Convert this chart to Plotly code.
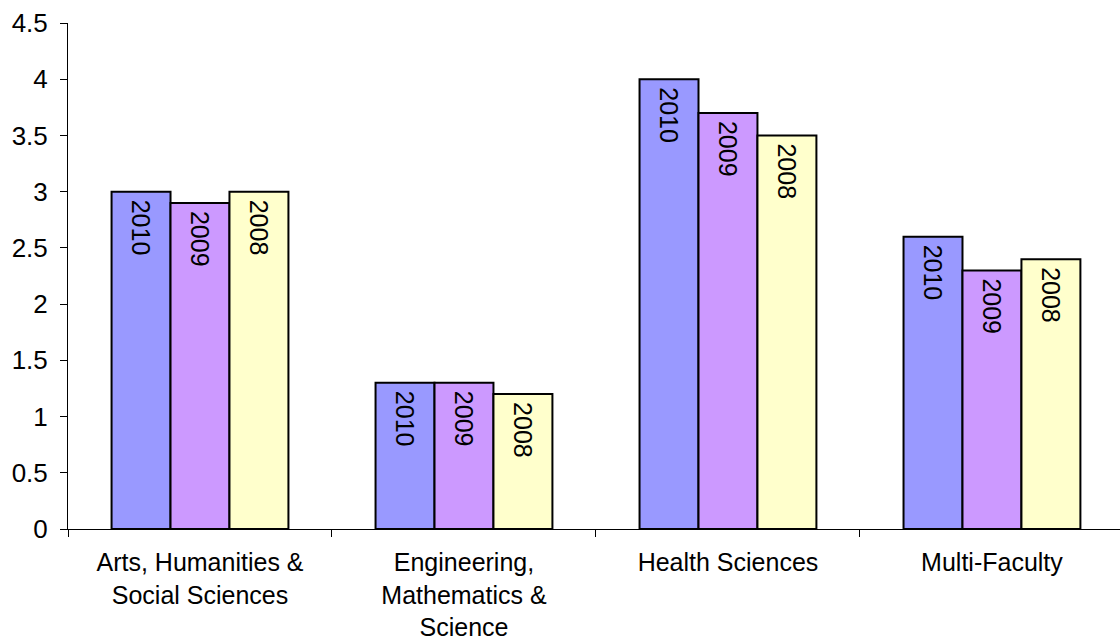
import plotly.graph_objects as go

categories = ["Arts, Humanities &<br>Social Sciences",
              "Engineering,<br>Mathematics &<br>Science",
              "Health Sciences",
              "Multi-Faculty"]
series_names = ["2010", "2009", "2008"]
values_2010 = [3.0, 1.3, 4.0, 2.6]
values_2009 = [2.9, 1.3, 3.7, 2.3]
values_2008 = [3.0, 1.2, 3.5, 2.4]
colors = ["#9999FF", "#CC99FF", "#FFFFCC"]
y_ticks = [0, 0.5, 1, 1.5, 2, 2.5, 3, 3.5, 4, 4.5]
y_tick_labels = ["0", "0.5", "1", "1.5", "2", "2.5", "3", "3.5", "4", "4.5"]

FONT = "Liberation Sans, Arial, sans-serif"

fig = go.Figure()
for name, vals, col in zip(series_names, [values_2010, values_2009, values_2008], colors):
    fig.add_trace(go.Bar(
        x=categories, y=vals, name=name,
        marker=dict(color=col, line=dict(color="black", width=2)),
        text=["\u2009" + name] * len(vals),
        textposition="inside",
        insidetextanchor="end",
        textangle=90,
        textfont=dict(family=FONT, size=25, color="black"),
        cliponaxis=False,
    ))

fig.update_layout(
    width=1120, height=644,
    margin=dict(l=68, r=0, t=23, b=115, autoexpand=False),
    paper_bgcolor="white", plot_bgcolor="white",
    barmode="group", bargap=0.33, bargroupgap=0,
    showlegend=False,
    font=dict(family=FONT, size=26, color="black"),
)
fig.update_xaxes(
    type="category", range=[-0.5, 3.485], automargin=False,
    showline=True, linecolor="black", linewidth=1,
    ticks="outside", ticklen=7, tickcolor="black", tickson="boundaries",
    ticklabelstandoff=11,
    showgrid=False, zeroline=False,
    tickfont=dict(family=FONT, size=25, color="black"),
)
fig.update_yaxes(
    range=[0, 4.5], tickvals=y_ticks, ticktext=y_tick_labels, automargin=False,
    showline=True, linecolor="black", linewidth=1,
    ticks="outside", ticklen=7, tickcolor="black",
    ticklabelstandoff=7,
    showgrid=False, zeroline=False,
    tickfont=dict(family=FONT, size=26, color="black"),
)

fig.write_html("out.html", config={"displayModeBar": False},
               post_script="document.body.style.margin='0';")
